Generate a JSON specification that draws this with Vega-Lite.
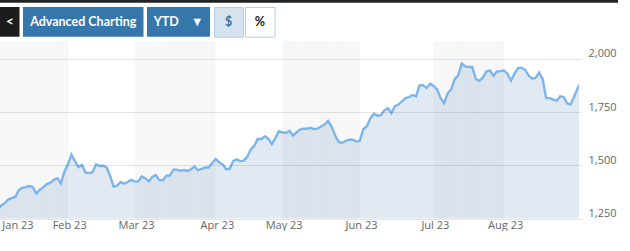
{
  "$schema": "https://vega.github.io/schema/vega-lite/v6.json",
  "padding": 0,
  "config": {"view": {"stroke": null}, "font": "Open Sans"},
  "spacing": 3,
  "vconcat": [
    {
      "width": 618, "height": 2.5,
      "view": {"fill": "#222222", "stroke": null},
      "data": {"values": [{}]},
      "mark": {"type": "rect", "color": "#222222"},
      "encoding": {}
    },
    {
      "spacing": 3,
      "hconcat": [
        {
          "width": 19.5, "height": 29.7,
          "view": {"fill": "#1c1c1c", "stroke": null},
          "data": {"values": [{"label": "<"}]},
          "mark": {"type": "text", "font": "Lato", "fontWeight": "bold", "fontSize": 14, "color": "#ffffff"},
          "encoding": {"text": {"field": "label"}}
        },
        {
          "width": 120.5, "height": 29.7,
          "view": {"fill": "#3677ab", "stroke": null},
          "data": {"values": [{"label": "Advanced Charting"}]},
          "mark": {"type": "text", "font": "Lato", "fontWeight": "bold", "fontSize": 12.5, "color": "#ffffff"},
          "encoding": {"text": {"field": "label"}}
        },
        {
          "width": 63, "height": 29.7,
          "view": {"fill": "#3677ab", "stroke": null},
          "data": {"values": [{"label": "YTD\u00a0\u00a0\u00a0\u00a0▼"}]},
          "mark": {"type": "text", "font": "Lato", "fontWeight": "bold", "fontSize": 12.5, "color": "#ffffff"},
          "encoding": {"text": {"field": "label"}}
        },
        {
          "spacing": 0,
          "hconcat": [
            {
              "width": 29, "height": 29.7,
              "view": {"fill": "#d5e3ef", "stroke": "#b5cce2"},
              "data": {"values": [{"label": "$"}]},
              "mark": {"type": "text", "font": "Lato", "fontWeight": "bold", "fontSize": 12.5, "color": "#3677ab"},
              "encoding": {"text": {"field": "label"}}
            },
            {
              "width": 29.5, "height": 29.7,
              "view": {"fill": "#ffffff", "stroke": "#b5cce2"},
              "data": {"values": [{"label": "%"}]},
              "mark": {"type": "text", "font": "Lato", "fontWeight": "bold", "fontSize": 12.5, "color": "#222222"},
              "encoding": {"text": {"field": "label"}}
            }
          ]
        }
      ]
    },
    {
      "width": 579,
      "height": 177.7,
      "data": {"values": [
        {"date": "2023-01-03", "month": "Jan", "value": 1290},
        {"date": "2023-01-04", "month": "Jan", "value": 1312},
        {"date": "2023-01-05", "month": "Jan", "value": 1322},
        {"date": "2023-01-06", "month": "Jan", "value": 1340},
        {"date": "2023-01-09", "month": "Jan", "value": 1346},
        {"date": "2023-01-10", "month": "Jan", "value": 1352},
        {"date": "2023-01-11", "month": "Jan", "value": 1383},
        {"date": "2023-01-12", "month": "Jan", "value": 1395},
        {"date": "2023-01-13", "month": "Jan", "value": 1398},
        {"date": "2023-01-17", "month": "Jan", "value": 1403},
        {"date": "2023-01-18", "month": "Jan", "value": 1399},
        {"date": "2023-01-19", "month": "Jan", "value": 1368},
        {"date": "2023-01-20", "month": "Jan", "value": 1385},
        {"date": "2023-01-23", "month": "Jan", "value": 1398},
        {"date": "2023-01-24", "month": "Jan", "value": 1412},
        {"date": "2023-01-25", "month": "Jan", "value": 1419},
        {"date": "2023-01-26", "month": "Jan", "value": 1432},
        {"date": "2023-01-27", "month": "Jan", "value": 1440},
        {"date": "2023-01-30", "month": "Jan", "value": 1416},
        {"date": "2023-01-31", "month": "Jan", "value": 1470},
        {"date": "2023-02-01", "month": "Feb", "value": 1505},
        {"date": "2023-02-02", "month": "Feb", "value": 1550},
        {"date": "2023-02-03", "month": "Feb", "value": 1520},
        {"date": "2023-02-06", "month": "Feb", "value": 1492},
        {"date": "2023-02-07", "month": "Feb", "value": 1502},
        {"date": "2023-02-08", "month": "Feb", "value": 1466},
        {"date": "2023-02-09", "month": "Feb", "value": 1464},
        {"date": "2023-02-10", "month": "Feb", "value": 1468},
        {"date": "2023-02-13", "month": "Feb", "value": 1505},
        {"date": "2023-02-14", "month": "Feb", "value": 1497},
        {"date": "2023-02-15", "month": "Feb", "value": 1498},
        {"date": "2023-02-16", "month": "Feb", "value": 1490},
        {"date": "2023-02-17", "month": "Feb", "value": 1450},
        {"date": "2023-02-21", "month": "Feb", "value": 1400},
        {"date": "2023-02-22", "month": "Feb", "value": 1405},
        {"date": "2023-02-23", "month": "Feb", "value": 1422},
        {"date": "2023-02-24", "month": "Feb", "value": 1414},
        {"date": "2023-02-27", "month": "Feb", "value": 1422},
        {"date": "2023-02-28", "month": "Feb", "value": 1432},
        {"date": "2023-03-01", "month": "Mar", "value": 1424},
        {"date": "2023-03-02", "month": "Mar", "value": 1425},
        {"date": "2023-03-03", "month": "Mar", "value": 1448},
        {"date": "2023-03-06", "month": "Mar", "value": 1440},
        {"date": "2023-03-07", "month": "Mar", "value": 1425},
        {"date": "2023-03-08", "month": "Mar", "value": 1446},
        {"date": "2023-03-09", "month": "Mar", "value": 1455},
        {"date": "2023-03-10", "month": "Mar", "value": 1432},
        {"date": "2023-03-13", "month": "Mar", "value": 1430},
        {"date": "2023-03-14", "month": "Mar", "value": 1452},
        {"date": "2023-03-15", "month": "Mar", "value": 1452},
        {"date": "2023-03-16", "month": "Mar", "value": 1480},
        {"date": "2023-03-17", "month": "Mar", "value": 1480},
        {"date": "2023-03-20", "month": "Mar", "value": 1474},
        {"date": "2023-03-21", "month": "Mar", "value": 1478},
        {"date": "2023-03-22", "month": "Mar", "value": 1474},
        {"date": "2023-03-23", "month": "Mar", "value": 1482},
        {"date": "2023-03-24", "month": "Mar", "value": 1494},
        {"date": "2023-03-27", "month": "Mar", "value": 1478},
        {"date": "2023-03-28", "month": "Mar", "value": 1484},
        {"date": "2023-03-29", "month": "Mar", "value": 1490},
        {"date": "2023-03-30", "month": "Mar", "value": 1490},
        {"date": "2023-03-31", "month": "Mar", "value": 1510},
        {"date": "2023-04-03", "month": "Apr", "value": 1530},
        {"date": "2023-04-04", "month": "Apr", "value": 1515},
        {"date": "2023-04-05", "month": "Apr", "value": 1505},
        {"date": "2023-04-06", "month": "Apr", "value": 1482},
        {"date": "2023-04-10", "month": "Apr", "value": 1484},
        {"date": "2023-04-11", "month": "Apr", "value": 1520},
        {"date": "2023-04-12", "month": "Apr", "value": 1528},
        {"date": "2023-04-13", "month": "Apr", "value": 1520},
        {"date": "2023-04-14", "month": "Apr", "value": 1522},
        {"date": "2023-04-17", "month": "Apr", "value": 1540},
        {"date": "2023-04-18", "month": "Apr", "value": 1575},
        {"date": "2023-04-19", "month": "Apr", "value": 1592},
        {"date": "2023-04-20", "month": "Apr", "value": 1625},
        {"date": "2023-04-21", "month": "Apr", "value": 1623},
        {"date": "2023-04-24", "month": "Apr", "value": 1636},
        {"date": "2023-04-25", "month": "Apr", "value": 1625},
        {"date": "2023-04-26", "month": "Apr", "value": 1600},
        {"date": "2023-04-27", "month": "Apr", "value": 1628},
        {"date": "2023-04-28", "month": "Apr", "value": 1660},
        {"date": "2023-05-01", "month": "May", "value": 1655},
        {"date": "2023-05-02", "month": "May", "value": 1652},
        {"date": "2023-05-03", "month": "May", "value": 1662},
        {"date": "2023-05-04", "month": "May", "value": 1640},
        {"date": "2023-05-05", "month": "May", "value": 1655},
        {"date": "2023-05-08", "month": "May", "value": 1668},
        {"date": "2023-05-09", "month": "May", "value": 1672},
        {"date": "2023-05-10", "month": "May", "value": 1672},
        {"date": "2023-05-11", "month": "May", "value": 1676},
        {"date": "2023-05-12", "month": "May", "value": 1670},
        {"date": "2023-05-15", "month": "May", "value": 1672},
        {"date": "2023-05-16", "month": "May", "value": 1682},
        {"date": "2023-05-17", "month": "May", "value": 1691},
        {"date": "2023-05-18", "month": "May", "value": 1708},
        {"date": "2023-05-19", "month": "May", "value": 1682},
        {"date": "2023-05-22", "month": "May", "value": 1640},
        {"date": "2023-05-23", "month": "May", "value": 1610},
        {"date": "2023-05-24", "month": "May", "value": 1605},
        {"date": "2023-05-25", "month": "May", "value": 1615},
        {"date": "2023-05-26", "month": "May", "value": 1620},
        {"date": "2023-05-30", "month": "May", "value": 1620},
        {"date": "2023-05-31", "month": "May", "value": 1612},
        {"date": "2023-06-01", "month": "Jun", "value": 1615},
        {"date": "2023-06-02", "month": "Jun", "value": 1670},
        {"date": "2023-06-05", "month": "Jun", "value": 1682},
        {"date": "2023-06-06", "month": "Jun", "value": 1720},
        {"date": "2023-06-07", "month": "Jun", "value": 1742},
        {"date": "2023-06-08", "month": "Jun", "value": 1733},
        {"date": "2023-06-09", "month": "Jun", "value": 1735},
        {"date": "2023-06-12", "month": "Jun", "value": 1758},
        {"date": "2023-06-13", "month": "Jun", "value": 1768},
        {"date": "2023-06-14", "month": "Jun", "value": 1745},
        {"date": "2023-06-15", "month": "Jun", "value": 1778},
        {"date": "2023-06-16", "month": "Jun", "value": 1785},
        {"date": "2023-06-20", "month": "Jun", "value": 1800},
        {"date": "2023-06-21", "month": "Jun", "value": 1815},
        {"date": "2023-06-22", "month": "Jun", "value": 1820},
        {"date": "2023-06-23", "month": "Jun", "value": 1830},
        {"date": "2023-06-26", "month": "Jun", "value": 1823},
        {"date": "2023-06-27", "month": "Jun", "value": 1875},
        {"date": "2023-06-28", "month": "Jun", "value": 1876},
        {"date": "2023-06-29", "month": "Jun", "value": 1862},
        {"date": "2023-06-30", "month": "Jun", "value": 1883},
        {"date": "2023-07-03", "month": "Jul", "value": 1872},
        {"date": "2023-07-05", "month": "Jul", "value": 1856},
        {"date": "2023-07-06", "month": "Jul", "value": 1815},
        {"date": "2023-07-07", "month": "Jul", "value": 1792},
        {"date": "2023-07-10", "month": "Jul", "value": 1838},
        {"date": "2023-07-11", "month": "Jul", "value": 1856},
        {"date": "2023-07-12", "month": "Jul", "value": 1904},
        {"date": "2023-07-13", "month": "Jul", "value": 1922},
        {"date": "2023-07-14", "month": "Jul", "value": 1977},
        {"date": "2023-07-17", "month": "Jul", "value": 1964},
        {"date": "2023-07-18", "month": "Jul", "value": 1961},
        {"date": "2023-07-19", "month": "Jul", "value": 1961},
        {"date": "2023-07-20", "month": "Jul", "value": 1905},
        {"date": "2023-07-21", "month": "Jul", "value": 1896},
        {"date": "2023-07-24", "month": "Jul", "value": 1911},
        {"date": "2023-07-25", "month": "Jul", "value": 1940},
        {"date": "2023-07-26", "month": "Jul", "value": 1945},
        {"date": "2023-07-27", "month": "Jul", "value": 1920},
        {"date": "2023-07-28", "month": "Jul", "value": 1940},
        {"date": "2023-07-31", "month": "Jul", "value": 1942},
        {"date": "2023-08-01", "month": "Aug", "value": 1945},
        {"date": "2023-08-02", "month": "Aug", "value": 1930},
        {"date": "2023-08-03", "month": "Aug", "value": 1897},
        {"date": "2023-08-04", "month": "Aug", "value": 1930},
        {"date": "2023-08-07", "month": "Aug", "value": 1956},
        {"date": "2023-08-08", "month": "Aug", "value": 1958},
        {"date": "2023-08-09", "month": "Aug", "value": 1948},
        {"date": "2023-08-10", "month": "Aug", "value": 1922},
        {"date": "2023-08-11", "month": "Aug", "value": 1907},
        {"date": "2023-08-14", "month": "Aug", "value": 1910},
        {"date": "2023-08-15", "month": "Aug", "value": 1935},
        {"date": "2023-08-16", "month": "Aug", "value": 1905},
        {"date": "2023-08-17", "month": "Aug", "value": 1815},
        {"date": "2023-08-18", "month": "Aug", "value": 1815},
        {"date": "2023-08-21", "month": "Aug", "value": 1808},
        {"date": "2023-08-22", "month": "Aug", "value": 1803},
        {"date": "2023-08-23", "month": "Aug", "value": 1824},
        {"date": "2023-08-24", "month": "Aug", "value": 1820},
        {"date": "2023-08-25", "month": "Aug", "value": 1790},
        {"date": "2023-08-28", "month": "Aug", "value": 1786},
        {"date": "2023-08-29", "month": "Aug", "value": 1824},
        {"date": "2023-08-30", "month": "Aug", "value": 1863},
        {"date": "2023-08-31", "month": "Aug", "value": 1890}
      ]},
      "layer": [
        {
          "mark": {"type": "rect", "clip": true},
          "encoding": {
            "x": {"field": "date", "type": "ordinal",
              "scale": {"type": "band", "paddingInner": 0, "paddingOuter": 0, "range": [-2.4, 584.8]},
              "axis": {"values": ["2023-01-03", "2023-02-01", "2023-03-01", "2023-04-03", "2023-05-01", "2023-06-01", "2023-07-03", "2023-08-01"],
                "labelExpr": "utcFormat(toDate(datum.value), '%b %y')", "bandPosition": 0, "title": null, "grid": false, "domain": false,
                "ticks": false, "labelPadding": 1, "labelAngle": 0, "labelFlush": 5, "labelFlushOffset": -3,
                "labelColor": "#666666", "labelFont": "Open Sans", "labelFontSize": 11}},
            "fill": {"field": "month", "type": "nominal", "legend": null,
              "scale": {"domain": ["Jan", "Feb", "Mar", "Apr", "May", "Jun", "Jul", "Aug"],
                "range": ["#f7f7f7", "#ffffff", "#f7f7f7", "#ffffff", "#f7f7f7", "#ffffff", "#f7f7f7", "#ffffff"]}}
          }
        },
        {
          "mark": {"type": "area", "color": "#5b8db8", "opacity": 0.18, "clip": true},
          "encoding": {
            "x": {"field": "date", "type": "ordinal", "bandPosition": 0,
              "axis": {"values": ["2023-01-03", "2023-02-01", "2023-03-01", "2023-04-03", "2023-05-01", "2023-06-01", "2023-07-03", "2023-08-01"],
                "labelExpr": "utcFormat(toDate(datum.value), '%b %y')", "bandPosition": 0, "title": null, "grid": false, "domain": false,
                "ticks": false, "labelPadding": 1, "labelAngle": 0, "labelFlush": 5, "labelFlushOffset": -3,
                "labelColor": "#666666", "labelFont": "Open Sans", "labelFontSize": 11}},
            "y": {"field": "value", "type": "quantitative", "scale": {"domain": [1250, 2083], "zero": false, "nice": false},
              "axis": {"orient": "right", "values": [1250, 1500, 1750, 2000], "format": ",.0f", "title": null, "ticks": false, "domain": false,
                "labelPadding": 9, "labelAlign": "left", "labelBaseline": "alphabetic", "labelOffset": -2, "zindex": 1,
                "gridColor": "#000000", "gridOpacity": 0.1, "labelColor": "#666666", "labelFont": "Open Sans", "labelFontSize": 11}},
            "y2": {"datum": 1250}
          }
        },
        {
          "mark": {"type": "line", "color": "#7cb5ec", "strokeWidth": 2.4, "clip": true},
          "encoding": {
            "x": {"field": "date", "type": "ordinal", "bandPosition": 0,
              "axis": {"values": ["2023-01-03", "2023-02-01", "2023-03-01", "2023-04-03", "2023-05-01", "2023-06-01", "2023-07-03", "2023-08-01"],
                "labelExpr": "utcFormat(toDate(datum.value), '%b %y')", "bandPosition": 0, "title": null, "grid": false, "domain": false,
                "ticks": false, "labelPadding": 1, "labelAngle": 0, "labelFlush": 5, "labelFlushOffset": -3,
                "labelColor": "#666666", "labelFont": "Open Sans", "labelFontSize": 11}},
            "y": {"field": "value", "type": "quantitative",
              "axis": {"orient": "right", "values": [1250, 1500, 1750, 2000], "format": ",.0f", "title": null, "ticks": false, "domain": false,
                "labelPadding": 9, "labelAlign": "left", "labelBaseline": "alphabetic", "labelOffset": -2, "zindex": 1,
                "gridColor": "#000000", "gridOpacity": 0.1, "labelColor": "#666666", "labelFont": "Open Sans", "labelFontSize": 11}}
          }
        }
      ]
    }
  ]
}
